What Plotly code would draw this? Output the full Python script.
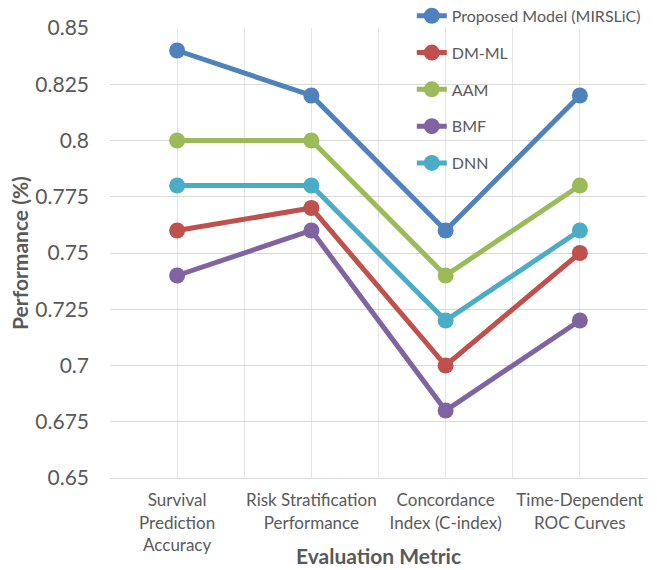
import plotly.graph_objects as go

categories = ["Survival<br>Prediction<br>Accuracy", "Risk Stratification<br>Performance",
              "Concordance<br>Index (C-index)", "Time-Dependent<br>ROC Curves"]
series_names = ["Proposed Model (MIRSLiC)", "DM-ML", "AAM", "BMF", "DNN"]
proposed = [0.84, 0.82, 0.76, 0.82]
dm_ml = [0.76, 0.77, 0.70, 0.75]
aam = [0.80, 0.80, 0.74, 0.78]
bmf = [0.74, 0.76, 0.68, 0.72]
dnn = [0.78, 0.78, 0.72, 0.76]
y_ticks = [0.65, 0.675, 0.7, 0.725, 0.75, 0.775, 0.8, 0.825, 0.85]
y_tick_text = ["0.65", "0.675", "0.7", "0.725", "0.75", "0.775", "0.8", "0.825", "0.85"]

colors = ["#4F81BD", "#C0504D", "#9BBB59", "#8064A2", "#4BACC6"]
values = [proposed, dm_ml, aam, bmf, dnn]
xpos = list(range(len(categories)))

fig = go.Figure()
for name, vals, c in zip(series_names, values, colors):
    fig.add_trace(go.Scatter(x=xpos, y=vals, name=name, mode="lines+markers",
                             line=dict(color=c, width=5),
                             marker=dict(color=c, size=16), legendgroup=name))

font = "Lato, 'Open Sans', sans-serif"
fig.update_layout(
    width=657, height=570,
    margin=dict(l=110, r=10, t=5, b=92, autoexpand=False),
    paper_bgcolor="white", plot_bgcolor="white",
    font=dict(family=font, color="#595959"),
    legend=dict(x=0.562, y=1.013, xanchor="left", yanchor="top",
                bgcolor="rgba(0,0,0,0)", font=dict(size=16, color="#595959"),
                tracegroupgap=13, itemwidth=30),
    xaxis=dict(range=[-0.5, 3.5], tickvals=xpos, ticktext=categories,
               tickfont=dict(size=17, color="#595959"), showgrid=True,
               gridcolor="#E6E6E6", gridwidth=1, zeroline=False, automargin=False,
               showline=True, linecolor="#D9D9D9", linewidth=1, ticklabelstandoff=7,
               minor=dict(tickvals=[-0.5, 0.5, 1.5, 2.5, 3.5], showgrid=True,
                          gridcolor="#E6E6E6", gridwidth=1)),
    yaxis=dict(range=[0.65, 0.85], tickvals=y_ticks, ticktext=y_tick_text,
               domain=[0, 450 / 473], automargin=False,
               tickfont=dict(size=21, color="#595959"), showgrid=True,
               gridcolor="#D9D9D9", gridwidth=1, zeroline=False, ticklen=0,
               ticks="", ticklabelstandoff=20,
               title=dict(text="<b>Performance (%)</b>", font=dict(size=21, color="#595959"),
                          standoff=0)),
    annotations=[dict(text="<b>Evaluation Metric</b>", xref="paper", yref="paper",
                      x=0.5, y=(478 - 555) / 473, xanchor="center", yanchor="middle",
                      showarrow=False, font=dict(size=21, color="#595959"))],
)
fig.write_html("out.html", config={"displayModeBar": False},
               post_script="document.body.style.margin='0';")
